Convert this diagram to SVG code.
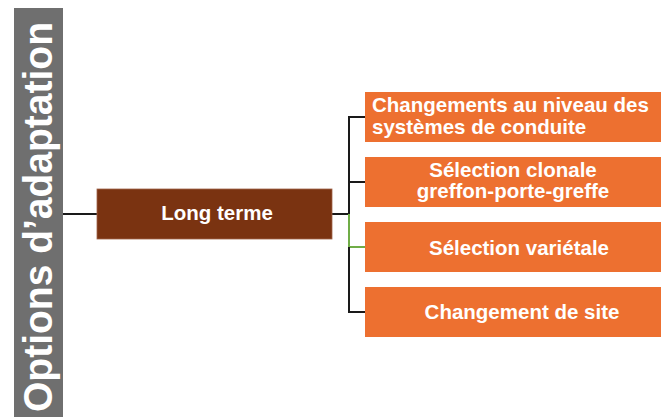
<svg xmlns="http://www.w3.org/2000/svg" width="665" height="417" viewBox="0 0 665 417">
  <style>
    .lbl { font-family: "Liberation Sans", Arial, sans-serif; font-weight: bold; fill: #ffffff; }
    .opt { fill: #ED7030; }
    .ln { fill: none; stroke: #1a1a1a; stroke-width: 2; }
    .lg { fill: none; stroke: #70AD47; stroke-width: 2; }
  </style>
  <rect width="665" height="417" fill="#ffffff"/>

  <!-- vertical title bar -->
  <g id="title">
    <rect x="14" y="8" width="49" height="409" fill="#6f6f6f"/>
    <text class="lbl" font-size="40" text-anchor="middle" transform="translate(52,217) rotate(-90)" textLength="390" lengthAdjust="spacingAndGlyphs">Options d’adaptation</text>
  </g>

  <!-- connectors -->
  <g id="connectors">
    <line class="ln" x1="63" y1="214" x2="97" y2="214"/>
    <line class="ln" x1="332" y1="214" x2="349" y2="214"/>
    <polyline class="ln" points="365,117 349,117 349,214"/>
    <line class="ln" x1="349" y1="182" x2="365" y2="182"/>
    <polyline class="lg" points="349,214 349,247 365,247"/>
    <polyline class="ln" points="349,247 349,312 365,312"/>
  </g>

  <g id="long-terme">
    <rect x="97" y="189" width="235" height="50" fill="#7A3311" stroke="#a0644a" stroke-width="0.8"/>
    <text class="lbl" x="217" y="220" font-size="20.5" text-anchor="middle">Long terme</text>
  </g>

  <g id="systemes">
    <rect class="opt" x="365" y="92" width="296" height="50"/>
    <text class="lbl" x="372" y="112" font-size="20.5">Changements au niveau des</text>
    <text class="lbl" x="372" y="134" font-size="20.5">systèmes de conduite</text>
  </g>

  <g id="clonale">
    <rect class="opt" x="365" y="157" width="296" height="50"/>
    <text class="lbl" x="513" y="177" font-size="20.5" text-anchor="middle">Sélection clonale</text>
    <text class="lbl" x="513" y="198" font-size="20.5" text-anchor="middle">greffon-porte-greffe</text>
  </g>

  <g id="varietale">
    <rect class="opt" x="365" y="222" width="296" height="50"/>
    <text class="lbl" x="519" y="255" font-size="20.5" text-anchor="middle">Sélection variétale</text>
  </g>

  <g id="site">
    <rect class="opt" x="365" y="287" width="296" height="50"/>
    <text class="lbl" x="522" y="319" font-size="20.5" text-anchor="middle">Changement de site</text>
  </g>
</svg>
